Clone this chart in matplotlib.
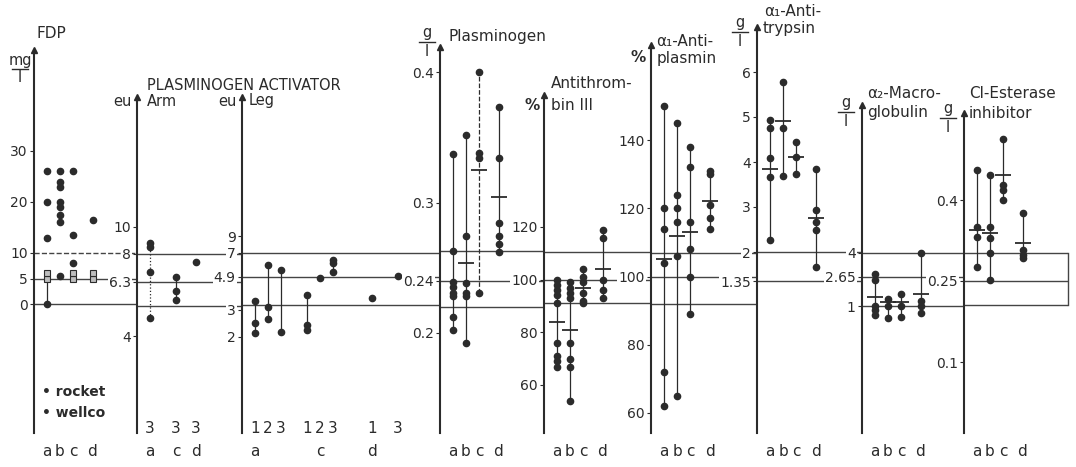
import numpy as np
import matplotlib.pyplot as plt
from matplotlib import ticker, transforms
from matplotlib.lines import Line2D

plt.rcParams['font.family'] = ['DejaVu Sans']

LARG, ALT = 1076, 467
BASE = 433          # pé de todos os eixos (px)
TINTA = '#2b2b2b'

# ---------------- dados ----------------
colunas = ['a', 'b', 'c', 'd']
pos_col = [0, 1, 2, 3.5]

fdp_pontos = [[0, 13, 20, 26], [5.5, 16, 17.5, 19, 20, 23, 24, 26], [8, 13.5, 26], [16.5]]
fdp_quadrados = [[5, 6], [], [5, 6], [5, 6]]

arm_cols = ['a', 'c', 'd']
arm_pos = [0, 2, 3.5]
arm_grupos = ['3', '3', '3']
arm_pontos = [[8.74, 8.46, 6.85, 4.66], [6.58, 5.84, 5.42], [7.45]]

leg_cols = ['a', 'c', 'd']
leg_cols_pos = [0, 5, 9]
leg_grupos = ['1', '2', '3', '1', '2', '3', '1', '3']
leg_pos = [0, 1, 2, 4, 5, 6, 9, 11]
leg_pontos = [[3.41, 2.46, 2.12], [5.85, 3.12, 2.61], [5.43, 2.15], [3.73, 2.38, 2.21],
              [4.82], [6.3, 6.0, 5.27], [3.57], [4.97]]

plg_pontos = [[0.337, 0.263, 0.239, 0.235, 0.231, 0.228, 0.212, 0.202],
              [0.352, 0.274, 0.238, 0.231, 0.228, 0.192],
              [0.4, 0.338, 0.334, 0.231],
              [0.373, 0.334, 0.284, 0.274, 0.268, 0.262]]
plg_media = [None, 0.254, 0.325, 0.304]

at3_pontos = [[100, 98, 96, 94, 91, 76, 71, 69, 67],
              [99, 97, 95, 93, 76, 70, 67, 54],
              [104, 101, 99, 95, 92, 91],
              [119, 116, 100, 96, 93]]
at3_media = [84, 81, 97, 104]

ap_pontos = [[150, 120, 114, 104, 72, 62],
             [145, 124, 120, 116, 106, 65],
             [138, 132, 116, 108, 100, 89],
             [131, 130, 121, 117, 114]]
ap_media = [105, 112, 113, 122]

at_pontos = [[4.93, 4.75, 4.08, 3.67, 2.27],
             [5.78, 4.75, 3.69],
             [4.45, 4.11, 3.73],
             [3.84, 2.93, 2.67, 2.49, 1.67]]
at_media = [3.85, 4.9, 4.11, 2.75]

mg_pontos = [[2.8, 2.5, 1.0, 0.8, 0.5],
             [1.4, 1.0, 0.3],
             [1.7, 1.0, 0.4],
             [4.0, 1.3, 1.0, 0.6]]
mg_media = [1.5, 1.2, 1.25, 1.7]

c1_pontos = [[0.456, 0.35, 0.331, 0.276],
             [0.446, 0.35, 0.33, 0.302, 0.252],
             [0.513, 0.428, 0.419, 0.4],
             [0.376, 0.307, 0.298, 0.293]]
c1_media = [0.344, 0.339, 0.446, 0.32]

# faixas normais (linhas horizontais) de cada parâmetro
fdp_normal = [10, 5, 0]
arm_normal = [8, 6.3, 5.15]
leg_normal = [7, 4.9, 3.2]
plg_normal = [0.263, 0.24, 0.22]
at3_normal = [110.5, 100, 91]
ap_normal = [107, 100, 92]
at_normal = [2, 1.35]
mg_normal = [4, 2.65, 1]
c1_normal = [0.302, 0.25, 0.205]

# ---------------- layout dos painéis (px) ----------------
paineis = {
    'fdp': dict(x=34, topo=50, prox=137, escala='linear', v0=0, y0=304, k=5.1,
                ticks=[30, 20, 10, 5, 0], rot=['30', '20', '10', '5', '0']),
    'arm': dict(x=137, topo=97, prox=242, escala='log', v0=10, y0=227, k=274,
                ticks=[10, 8, 6.3, 4], rot=['10', '8', '6.3', '4']),
    'leg': dict(x=242, topo=97, prox=440, escala='log', v0=7, y0=253, k=154,
                ticks=[9, 7, 4.9, 3, 2], rot=['9', '7', '4.9', '3', '2']),
    'plg': dict(x=440, topo=47, prox=544, escala='linear', v0=0.4, y0=72, k=1305,
                ticks=[0.4, 0.3, 0.24, 0.2], rot=['0.4', '0.3', '0.24', '0.2']),
    'at3': dict(x=544, topo=95, prox=651, escala='linear', v0=120, y0=227, k=2.633,
                ticks=[120, 100, 80, 60], rot=['120', '100', '80', '60']),
    'ap': dict(x=651, topo=45, prox=757, escala='linear', v0=140, y0=140, k=3.4125,
               ticks=[140, 120, 100, 80, 60], rot=['140', '120', '100', '80', '60']),
    'at': dict(x=757, topo=27, prox=862, escala='linear', v0=5, y0=117, k=45,
               ticks=[6, 5, 4, 3, 2, 1.35], rot=['6', '5', '4', '3', '2', '1.35']),
    'mg': dict(x=862, topo=105, prox=964, escala='linear', v0=4, y0=253, k=17.67,
               ticks=[4, 2.65, 1], rot=['4', '2.65', '1']),
    'c1': dict(x=964, topo=113, prox=1068, escala='linear', v0=0.4, y0=200, k=540,
               ticks=[0.4, 0.25, 0.1], rot=['0.4', '0.25', '0.1']),
}

fig = plt.figure(figsize=(LARG / 100, ALT / 100), dpi=100)
fig.patch.set_facecolor('white')


def novo_painel(p, normal, tracejado=None):
    larg = p['prox'] - p['x']
    ax = fig.add_axes([p['x'] / LARG, 1 - BASE / ALT, larg / LARG, (BASE - p['topo']) / ALT])
    ax.patch.set_visible(False)
    if p['escala'] == 'log':
        ax.set_yscale('log')
        f = lambda y: 10 ** (np.log10(p['v0']) - (y - p['y0']) / p['k'])
    else:
        f = lambda y: p['v0'] - (y - p['y0']) / p['k']
    ax.set_ylim(f(BASE), f(p['topo']))
    ax.set_xlim(-1, larg / 13 - 1)
    for s in ['top', 'right', 'bottom']:
        ax.spines[s].set_visible(False)
    ax.spines['left'].set_linewidth(1.5)
    ax.spines['left'].set_color(TINTA)
    ax.set_yticks(p['ticks'], p['rot'])
    ax.yaxis.set_minor_locator(ticker.NullLocator())
    ax.tick_params(axis='y', length=3, width=0.8, pad=1.5, labelsize=10, colors=TINTA)
    ax.tick_params(axis='x', length=0, pad=8, labelsize=11, colors=TINTA)
    for t in ax.get_yticklabels():
        t.set_bbox(dict(facecolor='white', edgecolor='none', pad=0.8))
    ax.plot(0, 1, '^', ms=5, color=TINTA, transform=ax.transAxes, clip_on=False)
    for i, v in enumerate(normal):
        ls = '--' if tracejado == i else '-'
        ax.axhline(v, color='#444444', lw=1.0, ls=ls, zorder=1)
    return ax


def desenha(ax, xs, listas, medias=None, faixa=True, estilos=None):
    for i, (x, vals) in enumerate(zip(xs, listas)):
        if not vals:
            continue
        todos = list(vals) + ([medias[i]] if medias and medias[i] is not None else [])
        if faixa and len(todos) > 1:
            ls = estilos[i] if estilos else '-'
            ax.vlines(x, min(todos), max(todos), color=TINTA, lw=0.9, linestyles=ls)
        ax.plot([x] * len(vals), vals, 'o', ms=4.5, color=TINTA, clip_on=False, zorder=3)
        if medias and medias[i] is not None:
            ax.plot(x, medias[i], '_', ms=11, mew=1.3, color=TINTA, zorder=3)


# FDP
ax = novo_painel(paineis['fdp'], fdp_normal, tracejado=0)
desenha(ax, pos_col, fdp_pontos, faixa=False)
ax.vlines(pos_col[0], 0, 5, color=TINTA, lw=0.9)
for x, vals in zip(pos_col, fdp_quadrados):
    ax.plot([x] * len(vals), vals, 's', ms=5, mfc='#bdbdbd', mec=TINTA, mew=0.8, zorder=3)
ax.set_xticks(pos_col, colunas)

# Plasminogen activator - Arm
ax = novo_painel(paineis['arm'], arm_normal)
desenha(ax, arm_pos, arm_pontos, estilos=[':', '-', '-'])
ax.set_xticks(arm_pos, arm_cols)
for x, g in zip(arm_pos, arm_grupos):
    ax.annotate(g, xy=(x, 0), xycoords=('data', 'axes fraction'), xytext=(0, 3),
                textcoords='offset points', ha='center', va='center', fontsize=11, color=TINTA)

# Plasminogen activator - Leg
ax = novo_painel(paineis['leg'], leg_normal)
desenha(ax, leg_pos, leg_pontos)
ax.set_xticks(leg_cols_pos, leg_cols)
for x, g in zip(leg_pos, leg_grupos):
    ax.annotate(g, xy=(x, 0), xycoords=('data', 'axes fraction'), xytext=(0, 3),
                textcoords='offset points', ha='center', va='center', fontsize=11, color=TINTA)

# Plasminogen
ax = novo_painel(paineis['plg'], plg_normal)
desenha(ax, pos_col, plg_pontos, plg_media, estilos=['-', '-', '--', '-'])
ax.set_xticks(pos_col, colunas)

# Antithrombin III
ax = novo_painel(paineis['at3'], at3_normal)
desenha(ax, pos_col, at3_pontos, at3_media)
ax.set_xticks(pos_col, colunas)

# alpha2-antiplasmin
ax = novo_painel(paineis['ap'], ap_normal)
desenha(ax, pos_col, ap_pontos, ap_media)
ax.set_xticks(pos_col, colunas)

# alpha1-antitrypsin
ax = novo_painel(paineis['at'], at_normal)
desenha(ax, pos_col, at_pontos, at_media)
ax.set_xticks(pos_col, colunas)

# alpha2-macroglobulin
ax = novo_painel(paineis['mg'], mg_normal)
desenha(ax, pos_col, mg_pontos, mg_media)
ax.set_xticks(pos_col, colunas)

# C1-esterase inhibitor
ax = novo_painel(paineis['c1'], c1_normal)
desenha(ax, pos_col, c1_pontos, c1_media)
ax.set_xticks(pos_col, colunas)
mist = transforms.blended_transform_factory(ax.transAxes, ax.transData)
ax.plot([1, 1], [c1_normal[0], c1_normal[-1]], color='#444444', lw=1.0,
        transform=mist, clip_on=False)


# ---------------- textos ----------------
def txt(x, y, s, **kw):
    kw.setdefault('fontsize', 11)
    fig.text(x / LARG, 1 - y / ALT, s, color=TINTA, va='center', **kw)


def fracao(x, y, num):
    txt(x, y - 9, num, ha='center', fontsize=10.5)
    fig.add_artist(Line2D([(x - 8) / LARG, (x + 8) / LARG], [1 - y / ALT, 1 - y / ALT],
                          color=TINTA, lw=1.0, transform=fig.transFigure))
    txt(x, y + 9, 'l', ha='center', fontsize=10.5)


txt(36, 33, 'FDP')
fracao(20, 69, 'mg')
txt(147, 85, 'PLASMINOGEN ACTIVATOR', fontsize=10.5)
txt(132, 101, 'eu', ha='right', fontsize=10.5)
txt(147, 101, 'Arm', fontsize=10.5)
txt(237, 101, 'eu', ha='right', fontsize=10.5)
txt(249, 101, 'Leg', fontsize=10.5)

fracao(427, 42, 'g')
txt(448, 36, 'Plasminogen')

txt(551, 84, 'Antithrom-')
txt(551, 105, 'bin III')
txt(540, 105, '%', ha='right', fontweight='bold')

txt(656, 42, 'α₁-Anti-')
txt(646, 58, '%', ha='right', fontweight='bold')
txt(657, 58, 'plasmin')

txt(764, 12, 'α₁-Anti-')
txt(763, 29, 'trypsin')
fracao(740, 32, 'g')

fracao(846, 112, 'g')
txt(867, 94, 'α₂-Macro-')
txt(867, 113, 'globulin')

fracao(948, 118, 'g')
txt(969, 94, 'Cl-Esterase')
txt(969, 113, 'inhibitor')

txt(42, 392, '• rocket', fontsize=10, fontweight='bold')
txt(42, 413, '• wellco', fontsize=10, fontweight='bold')

fig.savefig('out.png', dpi=100, facecolor='white')
